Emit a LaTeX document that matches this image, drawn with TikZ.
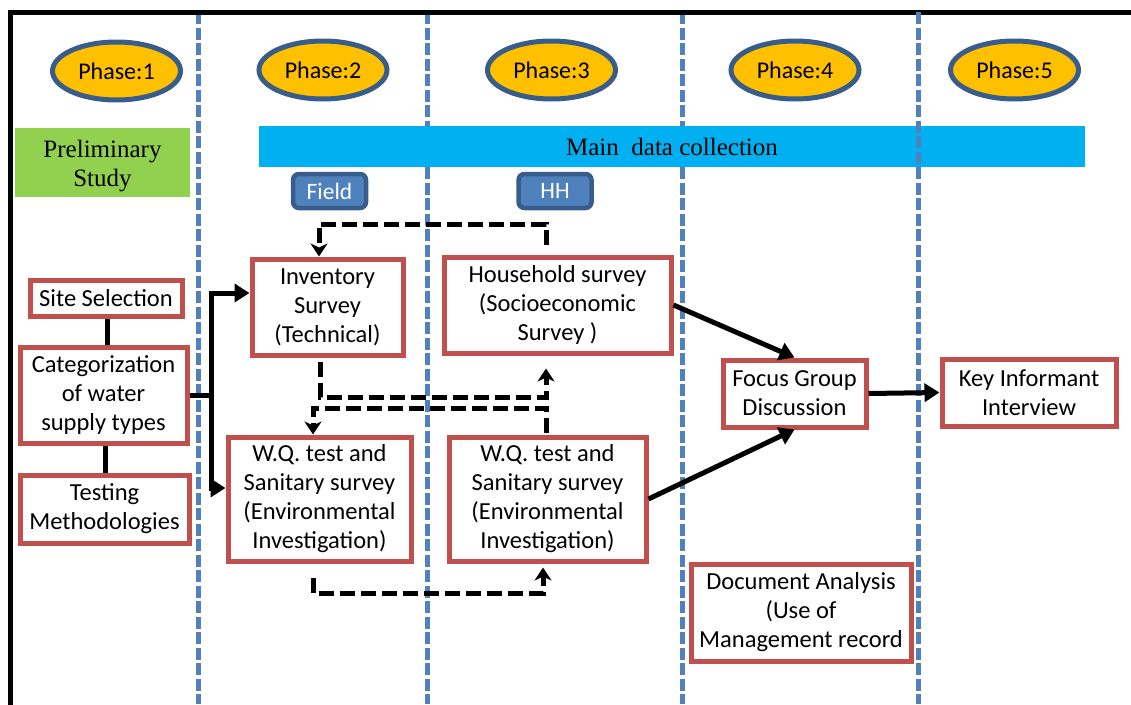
\documentclass[tikz,border=0pt]{standalone}
\usepackage{fontspec}
\setmainfont{Liberation Serif}
\newfontfamily\carl{Carlito}
\usetikzlibrary{arrows.meta,shapes.geometric,calc}
\definecolor{boxred}{HTML}{C0504D}
\definecolor{lane}{HTML}{4F81BD}
\definecolor{rim}{HTML}{385D8A}
\definecolor{phasefill}{HTML}{FFC000}
\definecolor{prelim}{HTML}{92D050}
\definecolor{mainbar}{HTML}{00B0F0}
\begin{document}
\begin{tikzpicture}[x=1pt,y=-1pt,
  box/.style={draw=boxred, line width=5pt, fill=white, inner sep=0pt, align=center,
    font=\carl\fontsize{24.5}{29}\selectfont},
  phase/.style={ellipse, draw=rim, line width=5pt, fill=phasefill, inner sep=0pt,
    minimum width=128pt, minimum height=58pt, font=\carl\fontsize{24}{28}\selectfont},
  tag/.style={draw=rim, line width=4.5pt, fill=lane, rounded corners=6pt, inner sep=0pt,
    minimum width=73pt, minimum height=34pt, text=white, font=\carl\fontsize{23.5}{26}\selectfont},
  laneline/.style={draw=lane, line width=5pt, dash pattern=on 12pt off 3.5pt},
  link/.style={draw=black, line width=5pt},
  arr/.style={link, -{Triangle[length=15pt,width=18pt]}},
  darr/.style={draw=black, line width=5pt, dash pattern=on 15pt off 6pt,
    -{Stealth[length=13pt,width=17pt,inset=4pt]}},
  band/.style={inner sep=0pt, align=center, font=\fontsize{25}{29}\selectfont}
]
\useasboundingbox (0,0) rectangle (1131,704);

% lane separators behind the main band
\draw[laneline] (198,12) -- (198,704);
\draw[laneline] (427,12) -- (427,704);
\draw[laneline] (682,12) -- (682,704);

% outer frame
\draw[line width=5pt, line cap=rect] (1131,12) -- (10,12) -- (10,704);

% phase headers
\node[phase] (p1) at (116.5,71) {Phase:1};
\node[phase] (p2) at (323,70) {Phase:2};
\node[phase] (p3) at (551.5,70) {Phase:3};
\node[phase] (p4) at (795,70) {Phase:4};
\node[phase] (p5) at (1014.5,70) {Phase:5};

% stage bands
\node[band, fill=prelim] (pre) at (102.5,162.5)
  {\parbox[c][69pt][c]{175pt}{\vspace*{8pt}\centering Preliminary\\Study}};
\node[band, fill=mainbar, minimum width=826pt, minimum height=41pt] (main) at (672,146.5) {Main~ data collection};

% separator drawn over the band
\draw[laneline] (918,12) -- (918,704);

% survey tags
\node[tag] (field) at (329.5,191) {Field};
\node[tag] (hhtag) at (555,191) {HH};

% process boxes
\node[box, minimum width=152pt, minimum height=36pt] (site) at (106,298) {Site Selection};
\node[box, minimum width=167pt, minimum height=96pt] (cat) at (103.5,395) {Categorization\\of water\\supply types};
\node[box, minimum width=169pt, minimum height=68pt] (test) at (104.5,509) {Testing\\Methodologies};
\node[box, minimum width=151pt, minimum height=96pt] (inv) at (327.5,307) {Inventory\\Survey\\(Technical)};
\node[box, minimum width=183pt, minimum height=124pt] (wq1) at (319.5,499) {W.Q. test and\\Sanitary survey\\(Environmental\\Investigation)};
\node[box, minimum width=227pt, minimum height=96pt] (hh) at (557.5,305) {Household survey\\(Socioeconomic\\Survey )};
\node[box, minimum width=197pt, minimum height=124pt] (wq2) at (547.5,499) {W.Q. test and\\Sanitary survey\\(Environmental\\Investigation)};
\node[box, minimum width=143pt, minimum height=67pt] (fgd) at (794.5,393.5) {Focus Group\\Discussion};
\node[box, minimum width=174pt, minimum height=67pt] (kii) at (1029,392.5) {Key Informant\\Interview};
\node[box, minimum width=220pt, minimum height=97pt] (doc) at (801,612.5) {Document Analysis\\(Use of\\Management record};

% preliminary links
\draw[link] ([xshift=1pt]site.south) -- ([xshift=1pt]site.south |- cat.north);
\draw[link] ([xshift=1.5pt]cat.south) -- ([xshift=1.5pt]cat.south |- test.north);

% branch into phase 2
\coordinate (j) at (211,395);
\draw[link] (cat.east) -- (j);
\draw[arr, line join=miter] (j) |- ([yshift=14pt]inv.west);
\draw[arr, line join=miter] (j) |- ([yshift=11pt]wq1.west);

% flows into the discussion and interview
\draw[arr] (hh.east) -- (fgd.north);
\draw[arr] (wq2.east) -- (fgd.south);
\draw[arr] (fgd.east) -- (kii.west);

% dashed cross links between field and household work
\coordinate (d1) at (546,245);
\draw[darr] (d1) -- (546,224) -| ([xshift=-8.5pt]inv.north);
\coordinate (d2) at (320,362);
\draw[darr] (d2) -- (320,397) -| ([xshift=-11.5pt,yshift=-13pt]hh.south);
\coordinate (d3) at (546,433);
\draw[darr] (d3) -- (546,408) -| ([xshift=-6.5pt]wq1.north);
\coordinate (d4) at (313,578);
\draw[darr] (d4) -- (313,593) -| ([xshift=-4.5pt,yshift=-4pt]wq2.south);
\end{tikzpicture}
\end{document}
